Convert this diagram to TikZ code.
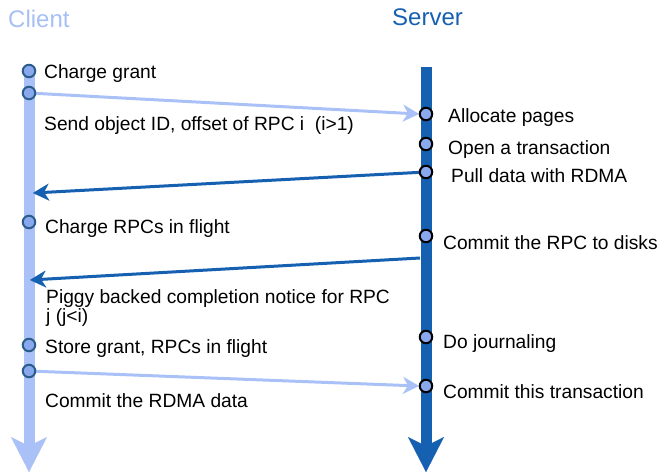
\documentclass[tikz,border=0pt]{standalone}
\usepackage{fontspec}
\setmainfont{Liberation Sans}
\usetikzlibrary{arrows.meta}

\definecolor{clientblue}{HTML}{A9C1F7}
\definecolor{clienttitle}{HTML}{A6C0F4}
\definecolor{serverblue}{HTML}{1560B0}
\definecolor{dotfill}{HTML}{89A8EE}
\definecolor{dotline}{HTML}{2A5D8C}

\begin{document}
\begin{tikzpicture}[x=1pt,y=-1pt,
  lbl/.style={anchor=base west, inner sep=0pt, font=\fontsize{19.2}{22}\selectfont},
  ttl/.style={anchor=base west, inner sep=0pt, font=\fontsize{24}{28}\selectfont},
  cdot/.style={circle, draw=dotline, fill=dotfill, line width=2pt, minimum size=12.5pt, inner sep=0pt},
  sdot/.style={circle, draw=black, fill=dotfill, line width=2pt, minimum size=12.5pt, inner sep=0pt},
  lifeline/.style={line width=11pt, -{Stealth[length=35pt, width=36pt, inset=9pt, line width=0.01pt]}},
  cmsg/.style={draw=clientblue, line width=3pt, -{Stealth[length=16pt, width=17pt, inset=5pt, line width=0.01pt]}},
  smsg/.style={draw=serverblue, line width=3pt, -{Stealth[length=16pt, width=17pt, inset=5pt, line width=0.01pt]}},
]
\useasboundingbox (0,0) rectangle (660,473);

% titles
\node[ttl, text=clienttitle] (tclient) at (8,28) {Client};
\node[ttl, text=serverblue] (tserver) at (392,26) {Server};

% lifelines
\coordinate (ctop) at (29,66);
\coordinate (cbot) at (29,472);
\coordinate (stop) at (426,67);
\coordinate (sbot) at (426,472);
\draw[lifeline, draw=clientblue, fill=clientblue] (ctop) -- (cbot);
\draw[lifeline, draw=serverblue, fill=serverblue] (stop) -- (sbot);

% message end points on the lifelines
\coordinate (m2end) at (33,193);
\coordinate (m3start) at (420,258);
\coordinate (m3end) at (30,280);

% messages
\draw[cmsg] (29,93) -- (419,114);
\draw[smsg] (426,172) -- (m2end);
\draw[smsg] (m3start) -- (m3end);
\draw[cmsg] (29,371) -- (419,386);

% client events
\node[cdot] (c1) at (29,71) {};
\node[cdot] (c2) at (29,93) {};
\node[cdot] (c3) at (29,222) {};
\node[cdot] (c4) at (29,345) {};
\node[cdot] (c5) at (29,371) {};

% server events
\node[sdot] (s1) at (426,114) {};
\node[sdot] (s2) at (426,144) {};
\node[sdot] (s3) at (426,172) {};
\node[sdot] (s4) at (426,236) {};
\node[sdot] (s5) at (426,337) {};
\node[sdot] (s6) at (426,386) {};

% client labels
\node[lbl] (l1) at (44,79) {Charge grant};
\node[lbl] (l2) at (44,131) {Send object ID, offset of RPC i \ (i>1)};
\node[lbl] (l3) at (45,233) {Charge RPCs in flight};
\node[lbl] (l4) at (46,303) {Piggy backed completion notice for RPC};
\node[lbl] (l4b) at (46,322) {j (j<i)};
\node[lbl] (l5) at (45,353) {Store grant, RPCs in flight};
\node[lbl] (l6) at (45,407) {Commit the RDMA data};

% server labels
\node[lbl] (r1) at (448,123) {Allocate pages};
\node[lbl] (r2) at (448,154) {Open a transaction};
\node[lbl] (r3) at (451,182) {Pull data with RDMA};
\node[lbl] (r4) at (443,249) {Commit the RPC to disks};
\node[lbl] (r5) at (443,348) {Do journaling};
\node[lbl] (r6) at (443,398) {Commit this transaction};
\end{tikzpicture}
\end{document}
